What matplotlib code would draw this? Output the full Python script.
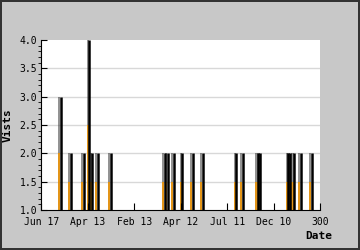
import numpy as np
import matplotlib.pyplot as plt

# posições dos picos (unidades do eixo x) e valores
picos_x = [21, 31.5, 45.5, 51.5, 55, 60.5, 74.5, 133, 136, 142.7, 151.7, 163,
           173.6, 210, 216.7, 233, 235.4, 266, 267.7, 272, 279, 291]
picos_y = [3, 2, 2, 4, 2, 2, 2, 2, 2, 2, 2, 2,
           2, 2, 2, 2, 2, 2, 2, 2, 2, 2]

ticks_x = [0, 50, 100, 150, 200, 250, 300]
rotulos_x = ["Jun 17", "Apr 13", "Feb 13", "Apr 12", "Jul 11", "Dec 10", "300"]

fig = plt.figure(figsize=(3.6, 2.5), dpi=100)
fig.patch.set_facecolor("#c8c8c8")
fig.patch.set_edgecolor("#333333")
fig.patch.set_linewidth(1.5)

ax = fig.add_axes([0.115, 0.16, 0.774, 0.68])
ax.set_facecolor("white")

base = 1.0
for x, v in zip(picos_x, picos_y):
    meio = (base + v) / 2
    # parte laranja (metade inferior) e sombra cinza (metade superior)
    ax.bar(x - 0.5, meio - base, bottom=base, width=-2.4, align="edge",
           color="#e08a00", alpha=0.9, linewidth=0)
    ax.bar(x - 0.5, v - meio, bottom=meio, width=-2.4, align="edge",
           color="#3a3a3a", alpha=0.55, linewidth=0)
    ax.vlines(x, base, v, color="black", linewidth=1.8)

ax.set_xlim(0, 300)
ax.set_ylim(1.0, 4.0)
ax.set_yticks(np.arange(1.0, 4.01, 0.5))
ax.set_yticks(np.arange(1.0, 4.01, 0.1), minor=True)
ax.set_yticklabels([f"{t:.1f}" for t in np.arange(1.0, 4.01, 0.5)])
ax.set_xticks(ticks_x)
ax.set_xticklabels(rotulos_x)

for y in [1.5, 2.0, 2.5, 3.0, 3.5]:
    ax.axhline(y, color="#d8d8d8", linewidth=1, zorder=0)

ax.tick_params(axis="both", direction="in", labelsize=7)
ax.tick_params(axis="y", which="major", length=4, pad=3)
ax.tick_params(axis="y", which="minor", length=2)
ax.tick_params(axis="x", length=5, pad=5)
for lab in ax.get_xticklabels() + ax.get_yticklabels():
    lab.set_family("DejaVu Sans Mono")

ax.spines["top"].set_visible(False)
ax.spines["right"].set_visible(False)

fig.text(0.022, 0.5, "Vists", rotation=90, ha="center", va="center",
         family="DejaVu Sans Mono", fontweight="bold", fontsize=8)
fig.text(0.885, 0.055, "Date", ha="center", va="center",
         family="DejaVu Sans Mono", fontweight="bold", fontsize=8)

fig.savefig("out.png", dpi=100, facecolor=fig.get_facecolor(),
            edgecolor=fig.get_edgecolor())
